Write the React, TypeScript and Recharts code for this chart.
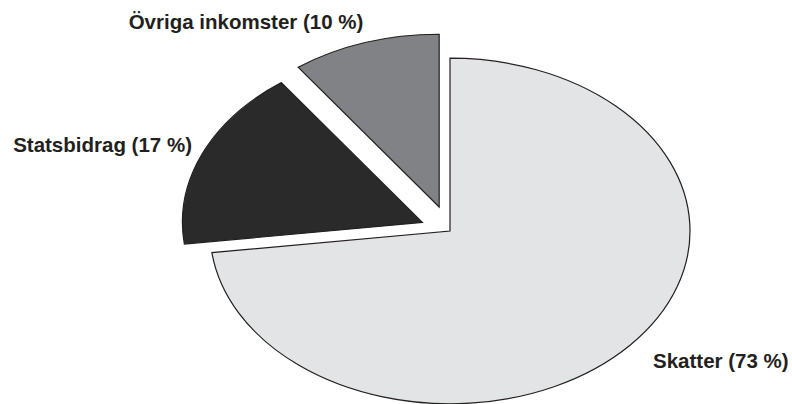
import React from 'react';
import { PieChart, Pie, Cell } from 'recharts';

const CATEGORIES = ['Skatter', 'Statsbidrag', 'Övriga inkomster'];
const SHARES = [73, 17, 10];
const LABELS = ['Skatter (73 %)', 'Statsbidrag (17 %)', 'Övriga inkomster (10 %)'];

const COLORS = ['#e3e4e6', '#2b2a2b', '#808285'];
const EXPLODE = [0, 30, 35];
const RY_RATIO = 0.72;
// label anchor relative to pie centre
const LABEL_LAYOUT = [
  { dx: 203, dy: 137, anchor: 'start' },
  { dx: -258, dy: -79, anchor: 'end' },
  { dx: -204, dy: -202, anchor: 'middle' },
];

const data = CATEGORIES.map((name, i) => ({ name, value: SHARES[i], label: LABELS[i] }));

const RAD = Math.PI / 180;

const EllipseSector = (props: any) => {
  const { cx, cy, outerRadius, startAngle, endAngle, midAngle, fill, stroke } = props;
  const name = props.name ?? props.payload?.name;
  const idx = Math.max(0, CATEGORIES.indexOf(name));
  const e = EXPLODE[idx] ?? 0;
  const k = RY_RATIO;
  const ox = cx + e * Math.cos(midAngle * RAD);
  const oy = cy - e * k * Math.sin(midAngle * RAD);
  const pt = (a: number) => [ox + outerRadius * Math.cos(a * RAD), oy - outerRadius * k * Math.sin(a * RAD)];
  const [x1, y1] = pt(startAngle);
  const [x2, y2] = pt(endAngle);
  const sweepDeg = Math.abs(endAngle - startAngle);
  const large = sweepDeg > 180 ? 1 : 0;
  const sweep = endAngle < startAngle ? 1 : 0;
  const d = `M${ox},${oy} L${x1},${y1} A${outerRadius},${outerRadius * k} 0 ${large} ${sweep} ${x2},${y2} Z`;
  return <path d={d} fill={fill} stroke={stroke} strokeWidth={1.2} strokeLinejoin="miter" />;
};

const renderLabel = (props: any) => {
  const { cx, cy } = props;
  const name = props.name ?? props.payload?.name;
  const idx = Math.max(0, CATEGORIES.indexOf(name));
  const L = LABEL_LAYOUT[idx];
  return (
    <text
      x={cx + L.dx}
      y={cy + L.dy}
      textAnchor={L.anchor}
      fill="#231f20"
      fontFamily="'Liberation Sans', Arial, sans-serif"
      fontWeight="bold"
      fontSize={20.5}
    >
      {LABELS[idx]}
    </text>
  );
};

export default function App() {
  return (
    <div style={{ position: 'absolute', left: 0, top: 0, background: '#fff' }}>
      <PieChart width={792} height={404} margin={{ top: 0, right: 0, bottom: 0, left: 0 }}>
        <Pie
          data={data}
          dataKey="value"
          nameKey="name"
          cx={450}
          cy={231}
          outerRadius={240}
          startAngle={90}
          endAngle={-270}
          isAnimationActive={false}
          stroke="#231f20"
          shape={EllipseSector}
          activeShape={EllipseSector}
          inactiveShape={EllipseSector}
          label={renderLabel}
          labelLine={false}
        >
          {data.map((d, i) => (
            <Cell key={d.name} fill={COLORS[i]} />
          ))}
        </Pie>
      </PieChart>
    </div>
  );
}
